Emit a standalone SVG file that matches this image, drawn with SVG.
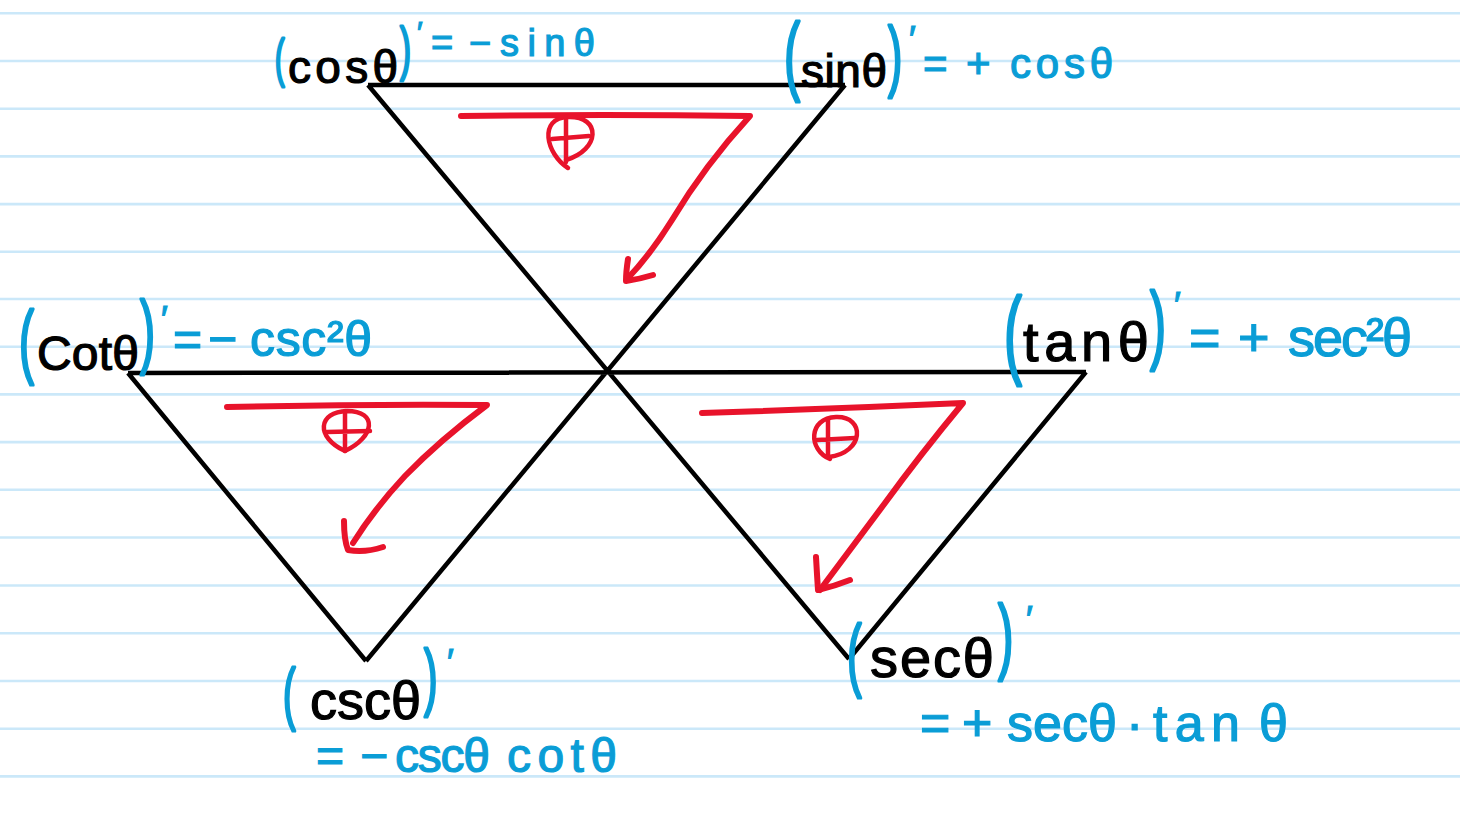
<svg xmlns="http://www.w3.org/2000/svg" width="1460" height="818" viewBox="0 0 1460 818">
<style>
.rule{stroke:#cbe8f9;stroke-width:2.6}
.tri{stroke:#000;stroke-width:4.5;fill:none;stroke-linejoin:miter}
.red{stroke:#e8132b;stroke-width:6;fill:none;stroke-linecap:round;stroke-linejoin:round}
.redt{stroke:#e8132b;stroke-width:4.5;fill:none;stroke-linecap:round;stroke-linejoin:round}
text{font-family:"Liberation Sans","DejaVu Sans",sans-serif}
.b{fill:#0a9dd6;stroke:#0a9dd6;stroke-width:1.2}
.k{fill:#000;stroke:#000;stroke-width:1.2}
.p{fill:#0a9dd6;stroke:#0a9dd6;stroke-width:3.2;stroke-linejoin:round}
</style>
<rect width="1460" height="818" fill="#fff"/>
<g id="paper">
<line class="rule" x1="0" y1="13.3" x2="1460" y2="13.3"/>
<line class="rule" x1="0" y1="61" x2="1460" y2="61"/>
<line class="rule" x1="0" y1="108.7" x2="1460" y2="108.7"/>
<line class="rule" x1="0" y1="156.4" x2="1460" y2="156.4"/>
<line class="rule" x1="0" y1="204.1" x2="1460" y2="204.1"/>
<line class="rule" x1="0" y1="251.8" x2="1460" y2="251.8"/>
<line class="rule" x1="0" y1="299" x2="1460" y2="299"/>
<line class="rule" x1="0" y1="346.7" x2="1460" y2="346.7"/>
<line class="rule" x1="0" y1="394.4" x2="1460" y2="394.4"/>
<line class="rule" x1="0" y1="442.1" x2="1460" y2="442.1"/>
<line class="rule" x1="0" y1="489.8" x2="1460" y2="489.8"/>
<line class="rule" x1="0" y1="537.5" x2="1460" y2="537.5"/>
<line class="rule" x1="0" y1="585.5" x2="1460" y2="585.5"/>
<line class="rule" x1="0" y1="633.3" x2="1460" y2="633.3"/>
<line class="rule" x1="0" y1="681" x2="1460" y2="681"/>
<line class="rule" x1="0" y1="728.7" x2="1460" y2="728.7"/>
<line class="rule" x1="0" y1="776.4" x2="1460" y2="776.4"/>
</g>
<g id="connectors">
<path class="tri" d="M368,85 L845,85 M368,85 L849,659 M845,85 L366,661 M128,373 L1086,372 M128,373 L366,661 M1086,372 L849,659"/>
<path class="red" d="M461,116 Q600,114 750,116 Q705,165 672,220 Q650,255 628,278"/>
<path class="red" d="M628,259 Q626,272 626,281 Q640,279 653,275"/>
<path class="red" d="M227,407 Q360,404 487,405 Q440,440 405,476 Q375,508 353,543"/>
<path class="red" d="M344,521 Q344,540 348,550 Q365,553 383,547"/>
<path class="red" d="M702,413 Q830,409 963,403 Q920,455 885,503 Q850,550 820,590"/>
<path class="red" d="M816,557 Q817,575 818,590 Q835,586 850,580"/>
</g>
<g id="sign-top">
<path class="redt" d="M568,168 C546,154 538,118 568,117 C602,116 600,150 566,160"/>
<path class="redt" d="M566,117 L566,162 M552,139 L589,136"/>
</g>
<g id="sign-left">
<path class="redt" d="M345,451 C315,437 318,412 347,411 C378,411 375,437 345,451 Z"/>
<path class="redt" d="M345,411 L345,451 M327,432 L370,431"/>
</g>
<g id="sign-right">
<path class="redt" d="M830,459 C808,450 808,418 836,417 C866,416 864,453 829,457"/>
<path class="redt" d="M828,419 L828,456 M817,440 L855,438"/>
</g>
<g id="cos">
<text class="p" transform="translate(275,76) scale(0.55,1)" font-size="52">(</text>
<text class="k" x="288" y="83" font-size="46" textLength="110" lengthAdjust="spacing">cosθ</text>
<text class="p" transform="translate(400,69) scale(0.55,1)" font-size="60">)</text>
<text class="b" x="417" y="42" font-size="30">′</text>
<text class="b" x="431" y="56" font-size="38">=</text>
<text class="b" x="469" y="56" font-size="38">−</text>
<text class="b" x="500" y="56" font-size="38" textLength="95" lengthAdjust="spacing">sinθ</text>
</g>
<g id="sin">
<text class="p" transform="translate(784,84) scale(0.55,1)" font-size="88">(</text>
<text class="k" x="801" y="87" font-size="46" textLength="86" lengthAdjust="spacing">sinθ</text>
<text class="p" transform="translate(888,82) scale(0.55,1)" font-size="78">)</text>
<text class="b" x="909" y="52" font-size="36">′</text>
<text class="b" x="923" y="78" font-size="42">=</text>
<text class="b" x="966" y="78" font-size="42">+</text>
<text class="b" x="1010" y="78" font-size="42" textLength="103" lengthAdjust="spacing">cosθ</text>
</g>
<g id="cot">
<text class="p" transform="translate(19,368) scale(0.55,1)" font-size="82">(</text>
<text class="k" x="37" y="370" font-size="48" textLength="102" lengthAdjust="spacing">Cotθ</text>
<text class="p" transform="translate(140,358) scale(0.55,1)" font-size="82">)</text>
<text class="b" x="161" y="332" font-size="36">′</text>
<text class="b" x="173" y="356" font-size="50">=</text>
<text class="b" x="208" y="356" font-size="50">−</text>
<text class="b" x="250" y="356" font-size="50" textLength="122" lengthAdjust="spacing">csc²θ</text>
</g>
<g id="tan">
<text class="p" transform="translate(1004,366) scale(0.55,1)" font-size="98">(</text>
<text class="k" x="1023" y="361" font-size="56" textLength="126" lengthAdjust="spacing">tanθ</text>
<text class="p" transform="translate(1150,353) scale(0.55,1)" font-size="87">)</text>
<text class="b" x="1174" y="318" font-size="36">′</text>
<text class="b" x="1189" y="356" font-size="54">=</text>
<text class="b" x="1238" y="356" font-size="54">+</text>
<text class="b" x="1288" y="356" font-size="54" textLength="124" lengthAdjust="spacing">sec²θ</text>
</g>
<g id="csc">
<text class="p" transform="translate(283,717) scale(0.55,1)" font-size="69">(</text>
<text class="k" x="310" y="719" font-size="54" textLength="111" lengthAdjust="spacing">cscθ</text>
<text class="p" transform="translate(424,702) scale(0.55,1)" font-size="74">)</text>
<text class="b" x="447" y="675" font-size="36">′</text>
<text class="b" x="316" y="772" font-size="48">=</text>
<text class="b" x="360" y="772" font-size="48">−</text>
<text class="b" x="395" y="772" font-size="48" textLength="95" lengthAdjust="spacing">cscθ</text>
<text class="b" x="507" y="772" font-size="48" textLength="110" lengthAdjust="spacing">cotθ</text>
</g>
<g id="sec">
<text class="p" transform="translate(847,681) scale(0.55,1)" font-size="80">(</text>
<text class="k" x="870" y="677" font-size="56" textLength="124" lengthAdjust="spacing">secθ</text>
<text class="p" transform="translate(998,664) scale(0.55,1)" font-size="84">)</text>
<text class="b" x="1026" y="632" font-size="36">′</text>
<text class="b" x="920" y="741" font-size="52">=</text>
<text class="b" x="962" y="741" font-size="52">+</text>
<text class="b" x="1007" y="741" font-size="52" textLength="110" lengthAdjust="spacing">secθ</text>
<text class="b" x="1126" y="741" font-size="52">·</text>
<text class="b" x="1153" y="741" font-size="52" textLength="87" lengthAdjust="spacing">tan</text>
<text class="b" x="1259" y="741" font-size="52">θ</text>
</g>
</svg>
